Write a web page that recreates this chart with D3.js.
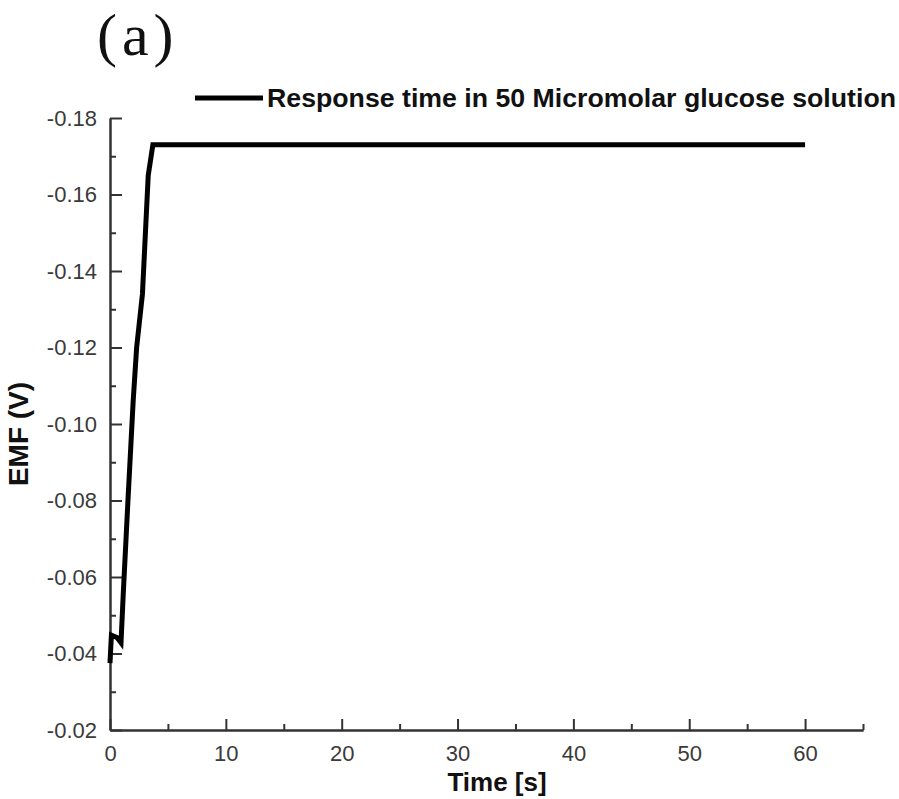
<!DOCTYPE html>
<html>
<head>
<meta charset="utf-8">
<script src="https://cdn.jsdelivr.net/npm/d3@7"></script>
<style>
  body { margin: 0; background: #fff; }
  svg { display: block; }
  .axis path, .axis line { stroke: #333; stroke-width: 2; }
  .axis text { font-family: "Liberation Sans", Arial, sans-serif; font-size: 22px; fill: #3a3a3a; }
</style>
</head>
<body>
<svg id="chart" width="899" height="799"></svg>
<script>
// response of the sensor
const timeValues = [0, 0.12, 0.6, 0.95, 1.15, 1.55, 2.0, 2.3, 2.8, 3.3, 3.7, 60];
const emfValues = [-0.0375, -0.0448, -0.0442, -0.0428, -0.056, -0.08, -0.106, -0.12, -0.134, -0.165, -0.173, -0.173];

const xMajorTicks = [0, 10, 20, 30, 40, 50, 60];
const xMinorTicks = [5, 15, 25, 35, 45, 55, 65];
const yMajorTicks = [-0.02, -0.04, -0.06, -0.08, -0.10, -0.12, -0.14, -0.16, -0.18];
const yMinorTicks = [-0.03, -0.05, -0.07, -0.09, -0.11, -0.13, -0.15, -0.17];

const seriesLabel = 'Response time in 50 Micromolar glucose solution';
const panelLabel = '(a)';

const svg = d3.select('#chart');
const margin = { top: 118, right: 36, bottom: 69, left: 110 };
const width = 899, height = 799;
const sans = '"Liberation Sans", Arial, sans-serif';

const x = d3.scaleLinear()
    .domain([0, 65])
    .range([margin.left, width - margin.right]);

const y = d3.scaleLinear()
    .domain([-0.02, -0.18])
    .range([height - margin.bottom, margin.top]);

// minor ticks first, so the major axis sits on top
svg.append('g')
    .attr('class', 'axis')
    .attr('transform', `translate(0,${y(-0.02)})`)
    .call(d3.axisBottom(x).tickValues(xMinorTicks).tickSize(-6).tickSizeOuter(0).tickFormat(''));

svg.append('g')
    .attr('class', 'axis')
    .attr('transform', `translate(${x(0)},0)`)
    .call(d3.axisLeft(y).tickValues(yMinorTicks).tickSize(-6).tickSizeOuter(0).tickFormat(''));

svg.append('g')
    .attr('class', 'axis x-axis')
    .attr('transform', `translate(0,${y(-0.02)})`)
    .call(d3.axisBottom(x).tickValues(xMajorTicks).tickSize(-11).tickSizeOuter(0).tickPadding(15).tickFormat(d3.format('d')));

svg.append('g')
    .attr('class', 'axis y-axis')
    .attr('transform', `translate(${x(0)},0)`)
    .call(d3.axisLeft(y).tickValues(yMajorTicks).tickSize(-12).tickSizeOuter(0).tickPadding(13));

// plain hyphen for the minus sign, like the original
svg.selectAll('.y-axis text').text(d => d3.format('.2f')(d).replace('−', '-'));

const points = timeValues.map((t, i) => ({ t, v: emfValues[i] }));

const line = d3.line()
    .x(d => x(d.t))
    .y(d => y(d.v));

svg.append('path')
    .datum(points)
    .attr('d', line)
    .attr('fill', 'none')
    .attr('stroke', '#000')
    .attr('stroke-width', 5)
    .attr('stroke-linejoin', 'miter');

// legend
svg.append('line')
    .attr('x1', 195).attr('x2', 263)
    .attr('y1', 98).attr('y2', 98)
    .attr('stroke', '#000')
    .attr('stroke-width', 5);

svg.append('text')
    .attr('x', 267)
    .attr('y', 107)
    .attr('font-family', sans)
    .attr('font-weight', 'bold')
    .attr('font-size', '26px')
    .attr('textLength', 629)
    .attr('lengthAdjust', 'spacingAndGlyphs')
    .attr('fill', '#111')
    .text(seriesLabel);

// axis titles
svg.append('text')
    .attr('x', 497)
    .attr('y', 791)
    .attr('text-anchor', 'middle')
    .attr('font-family', sans)
    .attr('font-weight', 'bold')
    .attr('font-size', '26px')
    .attr('fill', '#111')
    .text('Time [s]');

svg.append('text')
    .attr('transform', 'translate(28,434) rotate(-90)')
    .attr('text-anchor', 'middle')
    .attr('font-family', sans)
    .attr('font-weight', 'bold')
    .attr('font-size', '28px')
    .attr('fill', '#111')
    .text('EMF (V)');

// panel label
svg.append('text')
    .attr('x', 97)
    .attr('y', 55)
    .attr('font-family', '"Liberation Serif", "Times New Roman", serif')
    .attr('font-size', '60px')
    .attr('letter-spacing', '5px')
    .attr('fill', '#111')
    .text(panelLabel);
</script>
</body>
</html>
